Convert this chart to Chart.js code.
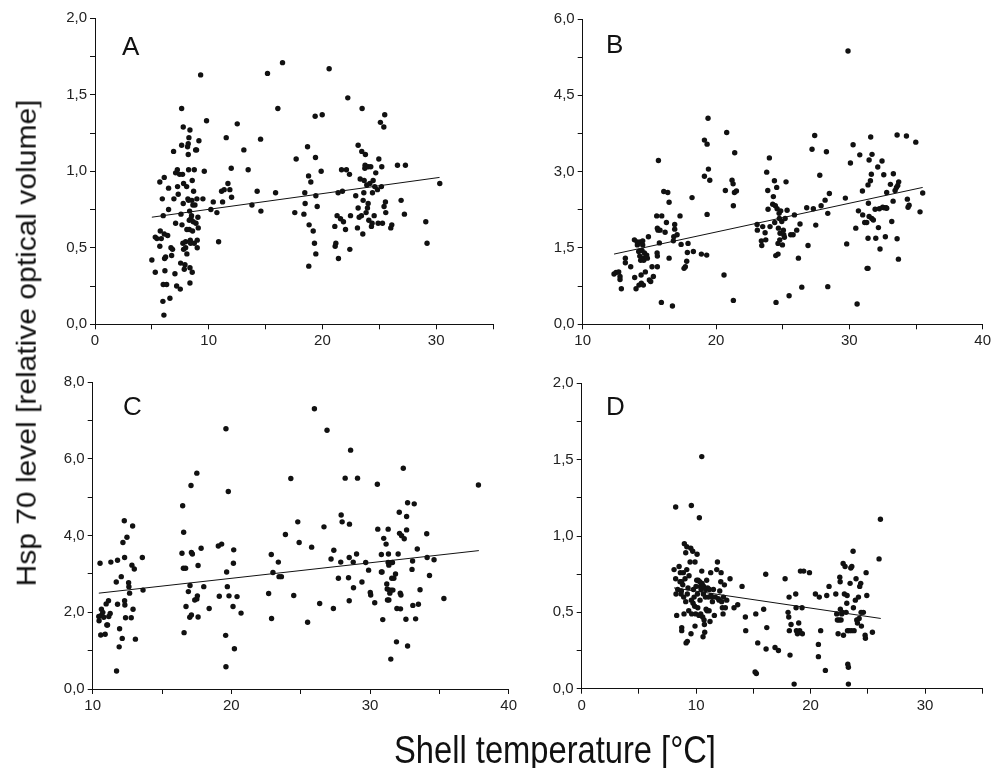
<!DOCTYPE html>
<html>
<head>
<meta charset="utf-8">
<title>Hsp 70 level vs shell temperature</title>
<script src="https://cdn.jsdelivr.net/npm/chart.js@4.4.0/dist/chart.umd.min.js"></script>
<style>
    body { margin: 0; background: #fff; width: 1003px; height: 768px; position: relative; overflow: hidden; font-family: "Liberation Sans", Arial, sans-serif; color: #111; }
    canvas { position: absolute; }
    .letter { position: absolute; font-size: 26px; line-height: 26px; }
    #yTitle { position: absolute; left: 26.6px; top: 343px; font-size: 30px; line-height: 30px; white-space: nowrap; transform: translate(-50%, -50%) rotate(-90deg) scaleY(0.9); }
    #xTitle { position: absolute; left: 555px; top: 731px; font-size: 38px; line-height: 38px; white-space: nowrap; transform: translateX(-50%) scaleX(0.86); }
</style>
</head>
<body>
<canvas id="chartA" width="490" height="360" style="left:20px;top:0px"></canvas>
<canvas id="chartB" width="493" height="360" style="left:510px;top:0px"></canvas>
<canvas id="chartC" width="500" height="370" style="left:20px;top:360px"></canvas>
<canvas id="chartD" width="493" height="370" style="left:510px;top:360px"></canvas>
<div class="letter" style="left:122px;top:33px">A</div>
<div class="letter" style="left:606px;top:31px">B</div>
<div class="letter" style="left:123px;top:393px">C</div>
<div class="letter" style="left:606px;top:393px">D</div>
<div id="yTitle">Hsp 70 level [relative optical volume]</div>
<div id="xTitle">Shell temperature [°C]</div>
<script>
// Panel A
const tempA = [
    5.0, 5.3, 5.3, 5.45, 5.7, 5.7, 5.74, 5.83, 5.92, 5.97,
    6.0, 6.0, 6.06, 6.09, 6.09, 6.12, 6.15, 6.21, 6.3, 6.39,
    6.47, 6.47, 6.59, 6.68, 6.74, 6.82, 6.91, 6.94, 7.03, 7.09,
    7.09, 7.18, 7.24, 7.26, 7.32, 7.44, 7.5, 7.53, 7.56, 7.62,
    7.62, 7.65, 7.7, 7.73, 7.76, 7.76, 7.79, 7.79, 7.85, 7.91,
    7.97, 7.97, 8.06, 8.08, 8.08, 8.14, 8.17, 8.2, 8.2, 8.23,
    8.23, 8.26, 8.29, 8.29, 8.32, 8.35, 8.35, 8.35, 8.38, 8.41,
    8.44, 8.49, 8.52, 8.55, 8.55, 8.58, 8.61, 8.64, 8.67, 8.73,
    8.73, 8.79, 8.85, 8.88, 8.93, 8.96, 8.99, 8.99, 9.05, 9.08,
    9.14, 9.29, 9.49, 9.61, 9.81, 10.19, 10.4, 10.72, 10.87, 11.13,
    11.22, 11.36, 11.54, 11.69, 11.86, 11.98, 12.01, 12.51, 13.09, 13.47,
    13.8, 14.26, 14.56, 14.59, 15.17, 15.88, 16.08, 16.49, 17.57, 17.69,
    18.37, 18.45, 18.48, 18.69, 18.78, 18.8, 18.83, 18.98, 19.19, 19.3,
    19.36, 19.39, 19.42, 19.42, 19.54, 19.89, 19.98, 20.59, 21.09, 21.12,
    21.18, 21.29, 21.38, 21.41, 21.59, 21.68, 21.76, 21.85, 22.03, 22.11,
    22.23, 22.38, 22.41, 22.47, 22.93, 23.08, 23.14, 23.14, 23.23, 23.32,
    23.43, 23.46, 23.49, 23.55, 23.58, 23.64, 23.67, 23.73, 23.75, 23.78,
    23.84, 23.9, 23.96, 24.02, 24.02, 24.08, 24.17, 24.25, 24.31, 24.37,
    24.4, 24.46, 24.55, 24.6, 24.69, 24.84, 24.9, 24.96, 25.1, 25.19,
    25.22, 25.28, 25.4, 25.42, 25.48, 25.54, 25.57, 26.01, 26.1, 26.6,
    26.92, 27.21, 27.3, 29.09, 29.2, 30.32
];
const hspA = [
    0.42, 0.34, 0.57, 0.56, 0.93, 0.51, 0.61, 0.56, 0.82, 0.15,
    0.71, 0.26, 0.06, 0.96, 0.59, 0.43, 0.35, 0.44, 0.26, 0.58,
    0.89, 0.75, 0.17, 0.50, 0.45, 0.49, 1.13, 0.82, 0.33, 0.99,
    0.66, 0.25, 1.01, 0.90, 0.85, 0.98, 0.23, 0.40, 0.72, 1.41,
    1.17, 0.65, 0.98, 0.53, 1.29, 0.79, 0.49, 0.92, 0.36, 0.39,
    0.50, 0.54, 0.90, 0.62, 0.46, 1.16, 0.82, 1.18, 1.11, 0.81,
    1.01, 1.22, 0.68, 0.62, 0.74, 1.27, 0.37, 0.27, 0.55, 0.53,
    0.69, 0.71, 0.81, 0.94, 0.34, 0.61, 0.78, 0.67, 0.87, 1.01,
    0.53, 0.78, 1.14, 0.66, 1.14, 0.82, 0.55, 0.50, 0.70, 0.63,
    1.20, 1.63, 0.82, 1.00, 1.33, 0.75, 0.80, 0.73, 0.54, 0.87,
    0.80, 0.88, 1.22, 0.92, 0.88, 1.02, 0.83, 1.31, 1.14, 1.01,
    0.78, 0.87, 1.21, 0.74, 1.64, 0.86, 1.41, 1.71, 0.73, 1.08,
    0.72, 0.86, 0.79, 1.16, 0.97, 0.38, 0.65, 0.93, 0.61, 0.53,
    1.36, 1.09, 0.84, 0.46, 0.77, 1.00, 1.37, 1.67, 0.64, 0.51,
    0.53, 0.71, 0.86, 0.43, 0.69, 1.01, 0.87, 0.67, 0.62, 1.01,
    1.48, 0.98, 0.49, 0.71, 0.84, 0.63, 1.17, 0.76, 0.70, 0.95,
    0.71, 1.13, 1.41, 0.59, 0.81, 0.86, 0.94, 1.02, 1.04, 1.11,
    0.73, 0.91, 0.76, 0.79, 1.03, 0.68, 0.92, 1.03, 0.64, 0.66,
    0.86, 0.94, 0.71, 0.90, 0.99, 0.88, 0.66, 1.08, 1.32, 0.90,
    1.03, 0.66, 1.29, 0.77, 1.37, 0.80, 0.73, 0.63, 0.65, 1.04,
    0.81, 0.72, 1.04, 0.67, 0.53, 0.92
];
const fitTempA = [5.0, 30.3];
const fitHspA = [0.70, 0.96];

// Panel B
const tempB = [
    12.35, 12.5, 12.7, 12.8, 12.8, 12.9, 13.2, 13.2, 13.6, 13.88,
    13.9, 14.0, 14.08, 14.1, 14.2, 14.22, 14.28, 14.3, 14.35, 14.38,
    14.4, 14.45, 14.48, 14.5, 14.5, 14.55, 14.58, 14.63, 14.7, 14.75,
    14.8, 14.85, 14.93, 15.0, 15.1, 15.2, 15.3, 15.55, 15.58, 15.6,
    15.6, 15.6, 15.65, 15.68, 15.75, 15.8, 15.9, 15.93, 16.08, 16.18,
    16.28, 16.38, 16.48, 16.48, 16.73, 16.8, 16.83, 16.9, 16.9, 17.08,
    17.3, 17.38, 17.6, 17.7, 17.8, 17.85, 17.9, 18.2, 18.3, 18.9,
    19.13, 19.13, 19.3, 19.33, 19.33, 19.4, 19.43, 19.53, 20.6, 20.7,
    20.8, 21.2, 21.28, 21.3, 21.3, 21.38, 21.4, 21.53, 23.08, 23.1,
    23.4, 23.43, 23.5, 23.68, 23.73, 23.8, 23.88, 23.9, 24.0, 24.05,
    24.25, 24.3, 24.38, 24.4, 24.45, 24.48, 24.5, 24.55, 24.58, 24.65,
    24.65, 24.68, 24.73, 24.75, 24.78, 24.8, 24.85, 24.93, 24.98, 25.05,
    25.08, 25.13, 25.18, 25.25, 25.33, 25.48, 25.6, 25.78, 25.88, 26.05,
    26.18, 26.3, 26.43, 26.8, 26.9, 27.2, 27.3, 27.4, 27.48, 27.78,
    27.88, 28.18, 28.28, 28.38, 28.38, 28.5, 29.7, 29.8, 29.9, 30.08,
    30.28, 30.48, 30.58, 30.68, 30.78, 31.0, 30.98, 31.15, 31.3, 31.33,
    31.4, 31.4, 31.43, 31.4, 31.48, 31.48, 31.58, 31.6, 31.65, 31.68,
    31.7, 31.8, 31.93, 31.98, 32.13, 32.18, 32.25, 32.3, 32.45, 32.5,
    32.58, 32.6, 32.7, 32.75, 32.8, 32.8, 33.08, 33.18, 33.28, 33.3,
    33.43, 33.53, 33.58, 33.58, 33.63, 33.68, 33.7, 34.28, 34.35, 34.4,
    34.48, 34.98, 35.3, 35.5
];
const hspB = [
    0.99, 1.02, 1.03, 0.94, 0.88, 0.70, 1.30, 1.21, 1.13, 1.66,
    0.92, 0.70, 1.62, 1.56, 1.43, 0.77, 1.34, 1.62, 1.26, 0.97,
    0.81, 1.45, 1.30, 1.64, 1.56, 0.77, 1.26, 1.40, 1.03, 1.33,
    1.36, 1.30, 1.72, 0.87, 0.84, 1.13, 0.94, 2.13, 1.40, 1.89,
    1.34, 1.13, 1.85, 3.22, 1.60, 1.85, 0.43, 2.13, 2.61, 1.81,
    2.00, 2.59, 2.40, 1.30, 0.36, 1.64, 1.72, 1.87, 1.96, 1.76,
    2.13, 1.57, 1.10, 1.13, 1.24, 1.41, 1.59, 2.49, 1.43, 1.38,
    2.91, 3.62, 1.36, 3.54, 2.16, 4.05, 3.05, 2.83, 0.97, 2.63,
    3.77, 2.83, 2.76, 2.33, 0.47, 2.59, 3.37, 2.62, 1.96, 1.85,
    1.64, 1.55, 1.92, 1.80, 1.66, 2.99, 2.63, 2.26, 3.27, 1.92,
    2.36, 2.51, 2.82, 2.00, 2.33, 1.35, 0.43, 2.69, 2.27, 1.38,
    1.59, 1.89, 2.18, 2.08, 1.66, 1.79, 2.23, 2.02, 1.56, 1.85,
    1.76, 1.71, 2.08, 2.80, 2.24, 0.56, 1.76, 1.76, 2.15, 1.85,
    1.30, 1.97, 0.73, 2.29, 1.55, 3.44, 2.27, 3.71, 1.95, 2.93,
    2.33, 2.44, 3.39, 2.18, 0.74, 2.57, 2.48, 1.58, 5.37, 3.17,
    3.53, 1.89, 0.40, 2.23, 3.33, 2.15, 2.62, 2.00, 2.00, 1.10,
    1.10, 1.69, 2.38, 2.74, 3.23, 2.12, 2.82, 3.68, 2.95, 2.08,
    3.34, 2.05, 2.26, 1.69, 3.09, 1.90, 2.27, 1.48, 3.21, 2.30,
    2.94, 2.29, 1.72, 2.29, 2.59, 2.28, 2.75, 2.02, 2.42, 2.96,
    2.63, 2.69, 1.68, 3.72, 2.73, 1.28, 2.80, 3.70, 2.46, 2.30,
    2.34, 3.58, 2.21, 2.58
];
const fitTempB = [12.35, 35.5];
const fitHspB = [1.38, 2.69];

// Panel C
const tempC = [
    10.44, 10.46, 10.53, 10.58, 10.63, 10.65, 10.73, 10.8, 10.9, 10.97,
    11.02, 11.07, 11.14, 11.16, 11.26, 11.31, 11.7, 11.79, 11.79, 11.94,
    11.91, 12.06, 12.13, 12.18, 12.28, 12.3, 12.3, 12.32, 12.37, 12.47,
    12.59, 12.61, 12.66, 12.78, 12.83, 12.88, 12.91, 13.0, 13.08, 13.58,
    13.63, 11.72, 16.44, 16.49, 16.56, 16.54, 16.59, 16.7, 16.73, 16.9,
    17.0, 17.02, 17.09, 17.12, 17.12, 17.19, 17.36, 17.51, 17.51, 17.55,
    17.6, 17.6, 17.82, 18.01, 18.4, 19.06, 19.13, 19.3, 19.59, 19.61,
    19.66, 19.71, 19.78, 19.83, 20.12, 20.15, 20.17, 20.22, 20.41, 20.7,
    19.61, 22.69, 22.88, 22.9, 23.0, 23.39, 23.44, 23.61, 23.9, 24.29,
    24.5, 24.79, 24.89, 25.5, 25.79, 25.99, 26.37, 26.68, 26.9, 27.36,
    27.39, 27.19, 27.72, 27.89, 27.92, 27.99, 28.21, 28.45, 28.5, 28.5,
    28.52, 28.6, 28.79, 28.81, 29.03, 29.1, 29.42, 29.69, 29.9, 30.02,
    30.05, 30.34, 30.53, 30.56, 30.82, 30.82, 30.87, 30.92, 30.99, 31.16,
    31.21, 31.24, 31.26, 31.31, 31.31, 31.33, 31.36, 31.36, 31.4, 31.43,
    31.5, 31.53, 31.57, 31.62, 31.65, 31.72, 31.84, 31.91, 31.94, 32.03,
    32.11, 32.13, 32.18, 32.2, 32.23, 32.28, 32.4, 32.47, 32.59, 32.64,
    32.64, 32.71, 32.71, 33.03, 33.07, 33.09, 33.19, 33.29, 33.41, 33.49,
    33.61, 34.09, 34.12, 34.29, 34.62, 35.33, 37.82
];
const hspC = [
    1.89, 1.78, 3.28, 1.41, 2.08, 1.93, 2.00, 1.87, 1.43, 2.22,
    1.67, 1.67, 2.30, 1.89, 1.97, 3.31, 2.79, 2.21, 3.36, 1.57,
    1.10, 2.93, 1.32, 3.82, 4.39, 3.43, 2.30, 2.19, 1.86, 3.96,
    2.77, 2.67, 2.50, 1.86, 3.23, 4.25, 2.08, 3.13, 1.30, 3.43,
    2.58, 0.47, 3.54, 4.78, 4.09, 3.15, 1.47, 3.15, 2.15, 2.54,
    1.87, 2.70, 5.31, 1.93, 3.56, 3.52, 2.32, 2.35, 5.63, 2.43,
    1.88, 3.22, 3.67, 2.67, 2.10, 3.73, 2.42, 3.78, 1.40, 6.79,
    3.05, 2.67, 5.15, 2.43, 2.15, 3.28, 3.63, 1.05, 2.41, 1.98,
    0.58, 2.49, 3.51, 1.84, 3.04, 3.31, 2.93, 2.93, 4.03, 5.49,
    2.44, 4.36, 3.82, 1.74, 3.70, 7.31, 2.23, 4.23, 6.75, 2.10,
    3.62, 3.39, 2.89, 3.31, 4.54, 4.36, 5.50, 2.90, 3.43, 2.30,
    4.30, 6.23, 3.31, 2.64, 3.52, 5.50, 2.79, 3.30, 3.10, 2.52,
    2.45, 2.25, 5.34, 4.17, 3.51, 3.05, 3.05, 1.81, 3.93, 3.78,
    2.74, 2.61, 2.32, 4.17, 3.30, 3.52, 2.32, 3.23, 2.58, 2.50,
    0.78, 2.58, 2.89, 3.30, 2.58, 2.89, 3.00, 1.23, 2.10, 3.52,
    4.61, 4.06, 2.50, 2.09, 2.45, 4.00, 5.76, 3.92, 1.82, 4.50,
    4.15, 4.86, 1.12, 3.12, 3.34, 2.18, 4.83, 1.83, 3.65, 2.21,
    2.59, 4.05, 3.43, 2.96, 3.37, 2.36, 5.32
];
const fitTempC = [10.44, 37.85];
const fitHspC = [2.50, 3.61];

// Panel D
const tempD = [
    8.07, 8.21, 8.21, 8.24, 8.3, 8.39, 8.51, 8.59, 8.62, 8.68,
    8.71, 8.74, 8.74, 8.74, 8.83, 8.88, 8.91, 8.94, 8.97, 9.03,
    9.09, 9.09, 9.12, 9.18, 9.18, 9.23, 9.23, 9.29, 9.35, 9.38,
    9.47, 9.53, 9.55, 9.58, 9.58, 9.61, 9.7, 9.73, 9.76, 9.82,
    9.87, 9.9, 9.9, 9.96, 9.99, 10.05, 10.08, 10.11, 10.14, 10.17,
    10.25, 10.28, 10.31, 10.34, 10.37, 10.4, 10.43, 10.49, 10.49, 10.52,
    10.57, 10.6, 10.63, 10.66, 10.69, 10.72, 10.75, 10.81, 10.84, 10.87,
    10.92, 10.95, 11.01, 11.07, 11.13, 11.16, 11.21, 11.27, 11.3, 11.36,
    11.42, 11.51, 11.59, 11.68, 11.8, 11.86, 11.94, 12.0, 12.06, 12.15,
    12.18, 12.23, 12.29, 12.35, 12.38, 12.47, 12.55, 12.67, 12.96, 13.31,
    13.63, 14.01, 14.3, 14.33, 15.21, 15.15, 15.26, 15.38, 15.9, 16.08,
    16.11, 16.17, 16.89, 17.19, 17.77, 18.03, 18.09, 18.12, 18.14, 18.2,
    18.29, 18.56, 18.7, 18.73, 18.76, 18.85, 18.96, 19.05, 19.11, 19.25,
    19.28, 19.4, 19.9, 20.42, 20.68, 20.68, 20.76, 20.88, 21.29, 21.41,
    21.61, 22.2, 22.28, 22.34, 22.4, 22.49, 22.55, 22.58, 22.6, 22.66,
    22.72, 22.78, 22.84, 22.87, 22.95, 23.01, 23.1, 23.16, 23.19, 23.22,
    23.25, 23.3, 23.3, 23.36, 23.45, 23.51, 23.57, 23.6, 23.71, 23.74,
    23.8, 23.91, 23.97, 24.03, 24.09, 24.18, 24.24, 24.29, 24.38, 24.41,
    24.44, 24.61, 24.76, 24.79, 24.85, 24.91, 25.4, 25.98, 26.1
];
const hspD = [
    0.78, 1.19, 0.72, 0.62, 0.48, 0.65, 0.80, 0.70, 0.76, 0.62,
    0.64, 0.70, 0.40, 0.38, 0.68, 0.76, 0.60, 0.49, 0.95, 0.72,
    0.57, 0.89, 0.30, 0.93, 0.78, 0.31, 0.62, 0.66, 0.51, 0.74,
    0.83, 0.92, 0.36, 0.58, 1.20, 0.49, 0.90, 0.56, 0.65, 0.60,
    0.54, 0.83, 0.41, 0.49, 0.67, 0.71, 0.88, 0.62, 0.53, 0.71,
    0.48, 1.12, 0.70, 0.58, 0.67, 0.49, 0.65, 1.52, 0.77, 0.69,
    0.47, 0.34, 0.62, 0.67, 0.45, 0.42, 0.37, 0.60, 0.65, 0.52,
    0.71, 0.51, 0.66, 0.60, 0.51, 0.65, 0.44, 0.76, 0.61, 0.60,
    0.57, 0.65, 0.48, 0.60, 0.78, 0.83, 0.59, 0.58, 0.64, 0.70,
    0.76, 0.57, 0.53, 0.49, 0.60, 0.68, 0.53, 0.58, 0.72, 0.53,
    0.55, 0.67, 0.47, 0.38, 0.49, 0.11, 0.10, 0.30, 0.52, 0.75,
    0.26, 0.40, 0.27, 0.25, 0.72, 0.50, 0.47, 0.60, 0.38, 0.22,
    0.42, 0.03, 0.62, 0.53, 0.38, 0.36, 0.43, 0.38, 0.77, 0.53,
    0.36, 0.77, 0.76, 0.62, 0.29, 0.21, 0.60, 0.38, 0.12, 0.61,
    0.67, 0.62, 0.49, 0.45, 0.36, 0.45, 0.73, 0.70, 0.52, 0.45,
    0.49, 0.50, 0.82, 0.35, 0.62, 0.80, 0.50, 0.56, 0.61, 0.38,
    0.16, 0.14, 0.03, 0.38, 0.69, 0.79, 0.38, 0.80, 0.90, 0.53,
    0.38, 0.58, 0.72, 0.45, 0.43, 0.60, 0.46, 0.67, 0.69, 0.50,
    0.41, 0.50, 0.35, 0.33, 0.76, 0.61, 0.37, 0.85, 1.11
];
const fitTempD = [8.07, 26.13];
const fitHspD = [0.66, 0.46];

const FONT = '"Liberation Sans", Arial, sans-serif';

function toPoints(xs, ys) {
    return xs.map((x, i) => ({ x: x, y: ys[i] }));
}

function isMajor(value, major) {
    const r = value / major;
    return Math.abs(r - Math.round(r)) < 1e-6;
}

// Axis with labels only on the major steps
function makeAxis(min, max, step, major, decimals) {
    return {
        type: 'linear',
        min: min,
        max: max,
        ticks: {
            stepSize: step,
            autoSkip: false,
            maxRotation: 0,
            padding: 3,
            color: '#222',
            font: { family: FONT, size: 15 },
            callback: function (value) {
                if (!isMajor(value, major)) return '';
                return decimals ? value.toFixed(decimals).replace('.', ',') : String(Math.round(value));
            },
        },
        grid: { drawOnChartArea: false, drawTicks: true, tickLength: 5, color: '#111', lineWidth: 1 },
        border: { display: true, color: '#111', width: 1 },
    };
}

// Build one panel, then nudge the layout padding so the plot area lands where the original has it
function drawPanel(id, xs, ys, fitX, fitY, xAxis, yAxis, area) {
    const canvas = document.getElementById(id);
    const pad = { left: 0, top: 0, right: 0, bottom: 0 };
    const chart = new Chart(canvas, {
        type: 'scatter',
        data: {
            datasets: [
                {
                    data: toPoints(xs, ys),
                    pointRadius: 2.7,
                    pointBackgroundColor: '#111',
                    pointBorderWidth: 0,
                    showLine: false,
                },
                {
                    data: toPoints(fitX, fitY),
                    showLine: true,
                    borderColor: '#111',
                    borderWidth: 1,
                    pointRadius: 0,
                },
            ],
        },
        options: {
            responsive: false,
            animation: false,
            devicePixelRatio: 1,
            layout: { padding: pad },
            plugins: { legend: { display: false }, tooltip: { enabled: false } },
            scales: { x: xAxis, y: yAxis },
        },
    });

    for (let i = 0; i < 3; i++) {
        const a = chart.chartArea;
        pad.left += area.left - a.left;
        pad.top += area.top - a.top;
        pad.right += a.right - area.right;
        pad.bottom += a.bottom - area.bottom;
        chart.options.layout.padding = { left: pad.left, top: pad.top, right: pad.right, bottom: pad.bottom };
        chart.update('none');
    }
    return chart;
}

drawPanel('chartA', tempA, hspA, fitTempA, fitHspA,
    makeAxis(0, 35, 5, 10, 0), makeAxis(0, 2, 0.25, 0.5, 1),
    { left: 75, top: 18.3, right: 473, bottom: 324.3 });

drawPanel('chartB', tempB, hspB, fitTempB, fitHspB,
    makeAxis(10, 40, 5, 10, 0), makeAxis(0, 6, 0.75, 1.5, 1),
    { left: 72.7, top: 19, right: 472.7, bottom: 324.3 });

drawPanel('chartC', tempC, hspC, fitTempC, fitHspC,
    makeAxis(10, 40, 5, 10, 0), makeAxis(0, 8, 1, 2, 1),
    { left: 72.7, top: 22.3, right: 485.7, bottom: 329 });

drawPanel('chartD', tempD, hspD, fitTempD, fitHspD,
    makeAxis(0, 35, 5, 10, 0), makeAxis(0, 2, 0.25, 0.5, 1),
    { left: 71.7, top: 23.3, right: 472.3, bottom: 328.7 });
</script>
</body>
</html>
